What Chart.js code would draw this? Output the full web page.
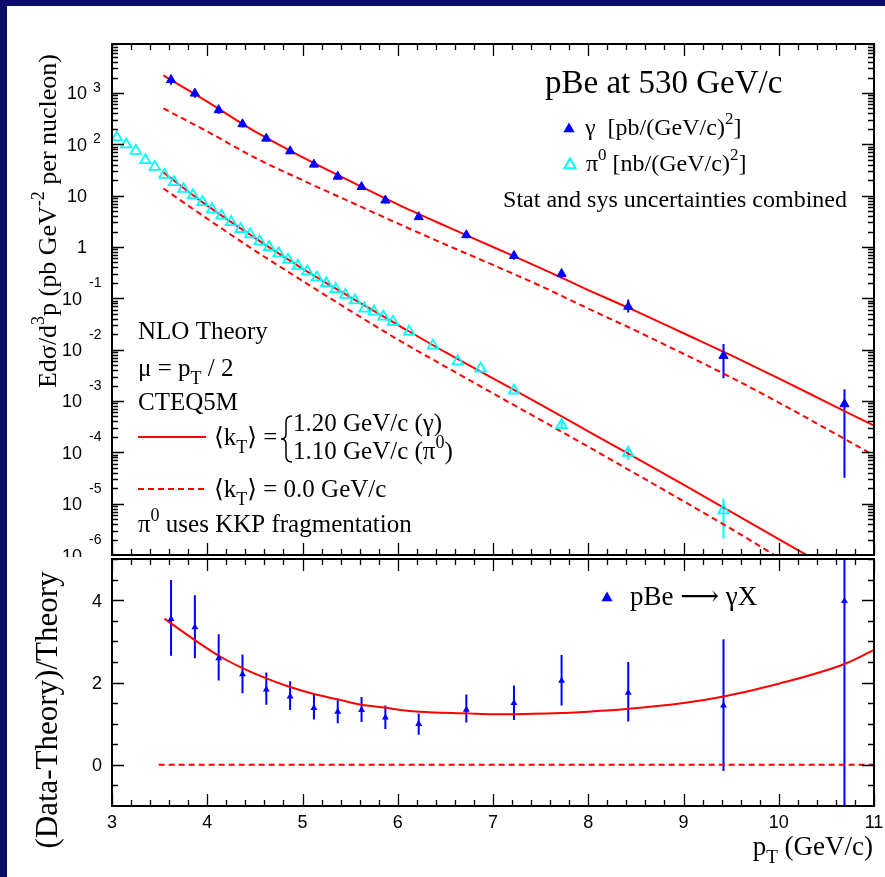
<!DOCTYPE html>
<html>
<head>
<meta charset="utf-8">
<title>pBe at 530 GeV/c</title>
<script src="https://cdn.jsdelivr.net/npm/chart.js@4.4.1/dist/chart.umd.min.js"></script>
<style>
  html, body { margin: 0; padding: 0; }
  body { width: 885px; height: 877px; background: #0b0b6b; position: relative; overflow: hidden; }
  #paper { position: absolute; left: 7px; top: 6px; right: 0; bottom: 0; background: #fff; }
  canvas { position: absolute; left: 0; top: 0; }
</style>
</head>
<body>
<div id="paper"></div>
<canvas id="c1" width="885" height="877"></canvas>
<canvas id="c2" width="885" height="877"></canvas>
<script>
"use strict";

// ---------- data (pT in GeV/c) ----------
// direct photons, pb/(GeV/c)^2
const gammaPt   = [3.62, 3.87, 4.12, 4.37, 4.62, 4.87, 5.12, 5.37, 5.62, 5.87, 6.22, 6.72, 7.22, 7.72, 8.42, 9.42, 10.69];
const gammaXsec = [1800, 980, 466, 248, 130, 73.6, 40.5, 23.6, 14.8, 8.1, 3.84, 1.71, 0.676, 0.30, 0.069, 0.0076, 0.00087];
const gammaLo   = [1440, 810, 396, 212, 113, 64.5, 35.7, 20.7, 13.0, 7.05, 3.34, 1.48, 0.565, 0.241, 0.053, 0.00277, 0.000032];
const gammaHi   = [2180, 1156, 541, 285, 149, 83.9, 46.3, 26.9, 16.8, 9.2, 4.34, 1.98, 0.79, 0.362, 0.095, 0.0129, 0.0017];

// pi0, nb/(GeV/c)^2
const pi0Pt   = [3.05, 3.15, 3.25, 3.35, 3.45, 3.55, 3.65, 3.75, 3.85, 3.95,
                 4.05, 4.15, 4.25, 4.35, 4.45, 4.55, 4.65, 4.75, 4.85, 4.95,
                 5.05, 5.15, 5.25, 5.35, 5.45, 5.55, 5.65, 5.75, 5.85, 5.95,
                 6.12, 6.37, 6.63, 6.87, 7.22, 7.72, 8.42, 9.42];
const pi0Xsec = [136, 99.5, 74.7, 49, 36.3, 25.4, 18.3, 13.5, 10.2, 7.5,
                 5.42, 4.08, 3.06, 2.24, 1.76, 1.29, 1.0, 0.75, 0.565, 0.43,
                 0.334, 0.255, 0.197, 0.151, 0.117, 0.091, 0.063, 0.055, 0.044, 0.035,
                 0.0225, 0.012, 0.0059, 0.0043, 0.0016, 0.00034, 0.000098, 0.0000074];
const pi0ErrPt = [7.72, 8.42, 9.42];
const pi0ErrLo = [0.00029, 0.000072, 0.0000021];
const pi0ErrHi = [0.00040, 0.000123, 0.0000126];

// NLO theory curves
const theoryPt  = [3.54, 4.0, 4.5, 5.0, 5.5, 6.0, 6.5, 7.0, 7.5, 8.0, 8.5, 9.0, 9.5, 10.0, 10.5, 11.0];
const gammaKt   = [2200, 676, 178, 56.2, 19.1, 6.76, 2.57, 1.0, 0.389, 0.145, 0.0562, 0.0209, 0.00776, 0.00275, 0.000955, 0.000331];
const gammaNoKt = [501, 178, 55.0, 20.0, 7.59, 2.88, 1.12, 0.447, 0.174, 0.0631, 0.0234, 0.00832, 0.00288, 0.000933, 0.000288, 0.0000871];
const pi0Kt     = [28.2, 6.38, 1.51, 0.380, 0.106, 0.0305, 0.00891, 0.00275, 0.000851, 0.000257, 0.0000776, 0.0000234, 0.00000692, 0.00000204, 0.000000603, 0.000000174];
const pi0NoKt   = [13.8, 3.55, 0.851, 0.219, 0.0575, 0.0158, 0.00468, 0.00141, 0.000427, 0.000129, 0.000038, 0.0000112, 0.00000324, 0.000000891, 0.000000251, 0.0000000708];

// (Data-Theory)/Theory for photons
const ratioVal = [3.54, 3.34, 2.59, 2.20, 1.83, 1.66, 1.38, 1.29, 1.33, 1.15, 0.99, 1.34, 1.50, 2.04, 1.75, 1.44, 3.98];
const ratioLo  = [2.65, 2.59, 2.05, 1.74, 1.46, 1.33, 1.10, 1.01, 1.04, 0.87, 0.73, 1.03, 1.09, 1.44, 1.05, -0.15, -2.5];
const ratioHi  = [4.49, 4.12, 3.17, 2.68, 2.24, 2.03, 1.72, 1.61, 1.65, 1.44, 1.25, 1.71, 1.93, 2.67, 2.50, 3.05, 6.5];
const ratioCurvePt = [3.55, 3.87, 4.12, 4.37, 4.62, 4.87, 5.12, 5.37, 5.62, 5.87, 6.03, 6.23, 6.74, 7.0, 7.24, 7.74, 8.0, 8.43, 9.0, 9.42, 10.0, 10.69, 11.0];
const ratioCurve   = [3.55, 3.03, 2.65, 2.35, 2.10, 1.89, 1.72, 1.59, 1.46, 1.39, 1.33, 1.29, 1.25, 1.23, 1.23, 1.26, 1.29, 1.36, 1.50, 1.66, 1.97, 2.45, 2.79];
const zeroPt  = [3.49, 11.0];
const zeroVal = [0, 0];

// axis labels
const xTickLabels = [3, 4, 5, 6, 7, 8, 9, 10, 11];
const logExps     = [3, 2, 1, 0, -1, -2, -3, -4, -5, -6];
const ratioLabels = [0, 2, 4];

const SERIF = '"Liberation Serif", "DejaVu Serif", serif';
const SANS  = '"Liberation Sans", Arial, sans-serif';
const BLUE = '#0000ff', CYAN = '#00ffff', RED = '#ff0000';

const pts = (xs, ys) => xs.map((x, i) => ({ x: x, y: ys[i] }));

// text with sub/superscripts: parts = [[kind, text], ...]
function rich(ctx, x, y, parts, size, family, align) {
  const fontFor = k => (k === 'n' ? size : Math.round(size * 0.7)) + 'px ' + family;
  let w = 0;
  for (const [k, t] of parts) { ctx.font = fontFor(k); w += ctx.measureText(t).width; }
  let cx = align === 'right' ? x - w : (align === 'center' ? x - w / 2 : x);
  ctx.textAlign = 'left';
  ctx.textBaseline = 'alphabetic';
  for (const [k, t] of parts) {
    ctx.font = fontFor(k);
    const dy = k === 'sub' ? size * 0.3 : (k === 'sup' ? -size * 0.45 : 0);
    ctx.fillText(t, cx, y + dy);
    cx += ctx.measureText(t).width;
  }
}

// ROOT-like frame with inward ticks
function makeFrame(yTicks) {
  return {
    id: 'frame',
    afterDatasetsDraw(chart) {
      const { ctx, chartArea: a } = chart;
      const xs = chart.scales.x, ys = chart.scales.y;
      ctx.save();
      ctx.strokeStyle = '#000';
      ctx.lineWidth = 1.3;
      ctx.beginPath();
      for (let i = 0; i <= 40; i++) {
        const len = i % 5 === 0 ? 12 : 6;
        const px = Math.round(xs.getPixelForValue(3 + i * 0.2)) + 0.5;
        ctx.moveTo(px, a.bottom); ctx.lineTo(px, a.bottom - len);
        ctx.moveTo(px, a.top); ctx.lineTo(px, a.top + len);
      }
      for (const t of yTicks) {
        const py = Math.round(ys.getPixelForValue(t.v)) + 0.5;
        if (py < a.top || py > a.bottom) continue;
        ctx.moveTo(a.left, py); ctx.lineTo(a.left + t.len, py);
        ctx.moveTo(a.right, py); ctx.lineTo(a.right - t.len, py);
      }
      ctx.stroke();
      ctx.lineWidth = 2;
      ctx.strokeRect(a.left, a.top, a.width, a.height);
      ctx.restore();
    }
  };
}

function makeErrBars(sets) {
  return {
    id: 'errbars',
    beforeDatasetsDraw(chart) {
      const { ctx, chartArea: a } = chart;
      const xs = chart.scales.x, ys = chart.scales.y;
      ctx.save();
      ctx.beginPath();
      ctx.rect(a.left, a.top, a.width, a.height);
      ctx.clip();
      for (const s of sets) {
        ctx.strokeStyle = s.color;
        ctx.lineWidth = 2;
        ctx.beginPath();
        s.xs.forEach((x, i) => {
          const px = xs.getPixelForValue(x);
          ctx.moveTo(px, ys.getPixelForValue(s.lo[i]));
          ctx.lineTo(px, ys.getPixelForValue(s.hi[i]));
        });
        ctx.stroke();
      }
      ctx.restore();
    }
  };
}

// tick positions
const logTicks = [];
for (let e = -6; e <= 3; e++) {
  for (let m = 1; m <= 9; m++) logTicks.push({ v: m * Math.pow(10, e), len: m === 1 ? 12 : 6 });
}
const linTicks = [];
for (let v = -1; v <= 5; v += 0.5) linTicks.push({ v: v, len: v % 2 === 0 ? 12 : 6 });

function lineSet(xs, ys, dashed) {
  return {
    data: pts(xs, ys), showLine: true, borderColor: RED, borderWidth: 2,
    borderDash: dashed ? [6, 4] : [], pointRadius: 0, cubicInterpolationMode: 'monotone', clip: 0
  };
}

function baseOpts(top, bottom, yScale) {
  return {
    responsive: false,
    animation: false,
    events: [],
    layout: { padding: { left: 112, right: 11, top: top, bottom: bottom } },
    scales: { x: { type: 'linear', min: 3, max: 11, display: false }, y: yScale },
    plugins: { legend: { display: false }, tooltip: { enabled: false } }
  };
}

// ---------- top panel: cross sections ----------
const topText = {
  id: 'topText',
  afterDraw(chart) {
    const ctx = chart.ctx;
    const ys = chart.scales.y;
    ctx.save();
    ctx.fillStyle = '#000';
    // y tick labels 10^n
    for (const e of logExps) {
      const py = ys.getPixelForValue(Math.pow(10, e));
      if (e === 0) rich(ctx, 87, py + 6.5, [['n', '1']], 18, SANS, 'right');
      else if (e === 1) rich(ctx, 87, py + 6.5, [['n', '10']], 18, SANS, 'right');
      else if (e > 0) {
        rich(ctx, 87, py + 6.5, [['n', '10']], 18, SANS, 'right');
        rich(ctx, 93, py - 1, [['n', String(e)]], 14, SANS, 'left');
      } else {
        rich(ctx, 82, py + 6.5, [['n', '10']], 18, SANS, 'right');
        rich(ctx, 89, py - 11, [['n', String(e)]], 14, SANS, 'left');
      }
    }
    // y title
    ctx.save();
    ctx.translate(56, 221);
    ctx.rotate(-Math.PI / 2);
    rich(ctx, 0, 0, [['n', 'Edσ/d'], ['sup', '3'], ['n', 'p (pb GeV'], ['sup', '-2'], ['n', ' per nucleon)']], 26, SERIF, 'center');
    ctx.restore();

    // legend
    rich(ctx, 545, 93, [['n', 'pBe at 530 GeV/c']], 33, SERIF, 'left');
    ctx.fillStyle = BLUE; ctx.strokeStyle = BLUE;
    Chart.helpers.drawPoint(ctx, { pointStyle: 'triangle', radius: 6.5, borderWidth: 0, rotation: 0 }, 569, 129);
    ctx.fillStyle = 'rgba(0,0,0,0)'; ctx.strokeStyle = CYAN; ctx.lineWidth = 2;
    Chart.helpers.drawPoint(ctx, { pointStyle: 'triangle', radius: 6.5, borderWidth: 2, rotation: 0 }, 570, 165);
    ctx.fillStyle = '#000';
    rich(ctx, 585, 135, [['n', 'γ  [pb/(GeV/c)'], ['sup', '2'], ['n', ']']], 24, SERIF, 'left');
    rich(ctx, 586, 171, [['n', 'π'], ['sup', '0'], ['n', ' [nb/(GeV/c)'], ['sup', '2'], ['n', ']']], 24, SERIF, 'left');
    rich(ctx, 847, 207, [['n', 'Stat and sys uncertainties combined']], 24, SERIF, 'right');

    // theory box
    const fs = 25;
    rich(ctx, 138, 339, [['n', 'NLO Theory']], fs, SERIF, 'left');
    rich(ctx, 138, 376, [['n', 'μ = p'], ['sub', 'T'], ['n', ' / 2']], fs, SERIF, 'left');
    rich(ctx, 138, 410, [['n', 'CTEQ5M']], fs, SERIF, 'left');
    ctx.strokeStyle = RED; ctx.lineWidth = 2;
    ctx.beginPath(); ctx.moveTo(138, 437); ctx.lineTo(206, 437); ctx.stroke();
    ctx.setLineDash([6, 4]);
    ctx.beginPath(); ctx.moveTo(138, 489); ctx.lineTo(206, 489); ctx.stroke();
    ctx.setLineDash([]);
    rich(ctx, 214, 445, [['n', '⟨k'], ['sub', 'T'], ['n', '⟩ =']], fs, SERIF, 'left');
    // brace
    ctx.strokeStyle = '#000'; ctx.lineWidth = 1.5;
    ctx.beginPath();
    ctx.moveTo(292, 416);
    ctx.quadraticCurveTo(286, 416, 286, 422);
    ctx.lineTo(286, 434);
    ctx.quadraticCurveTo(286, 439, 281, 439);
    ctx.quadraticCurveTo(286, 439, 286, 444);
    ctx.lineTo(286, 456);
    ctx.quadraticCurveTo(286, 462, 292, 462);
    ctx.stroke();
    rich(ctx, 293, 431, [['n', '1.20 GeV/c (γ)']], fs, SERIF, 'left');
    rich(ctx, 293, 459, [['n', '1.10 GeV/c (π'], ['sup', '0'], ['n', ')']], fs, SERIF, 'left');
    rich(ctx, 214, 497, [['n', '⟨k'], ['sub', 'T'], ['n', '⟩ = 0.0 GeV/c']], fs, SERIF, 'left');
    rich(ctx, 138, 532, [['n', 'π'], ['sup', '0'], ['n', ' uses KKP fragmentation']], fs, SERIF, 'left');
    ctx.restore();
  }
};

const chart1 = new Chart(document.querySelector('#c1'), {
  type: 'scatter',
  data: {
    datasets: [
      { data: pts(gammaPt, gammaXsec), pointStyle: 'triangle', pointRadius: 5.3, backgroundColor: BLUE, borderColor: BLUE, borderWidth: 1 },
      { data: pts(pi0Pt, pi0Xsec), pointStyle: 'triangle', pointRadius: 6, backgroundColor: 'rgba(0,0,0,0)', borderColor: CYAN, borderWidth: 1.8 },
      lineSet(theoryPt, gammaKt, false),
      lineSet(theoryPt, gammaNoKt, true),
      lineSet(theoryPt, pi0Kt, false),
      lineSet(theoryPt, pi0NoKt, true)
    ]
  },
  options: baseOpts(44, 877 - 555, { type: 'logarithmic', min: 1e-6, max: 9000, display: false }),
  plugins: [
    makeErrBars([
      { xs: gammaPt, lo: gammaLo, hi: gammaHi, color: BLUE },
      { xs: pi0ErrPt, lo: pi0ErrLo, hi: pi0ErrHi, color: CYAN }
    ]),
    makeFrame(logTicks),
    topText
  ]
});

// ---------- bottom panel: ratio ----------
const bottomText = {
  id: 'bottomText',
  beforeDraw(chart) {
    const ctx = chart.ctx;
    ctx.save();
    ctx.fillStyle = '#fff';
    ctx.fillRect(7, 557, 878, 320);
    ctx.restore();
  },
  afterDraw(chart) {
    const ctx = chart.ctx;
    const ys = chart.scales.y, xs = chart.scales.x;
    ctx.save();
    ctx.fillStyle = '#000';
    for (const v of ratioLabels) {
      rich(ctx, 102, ys.getPixelForValue(v) + 6.5, [['n', String(v)]], 18, SANS, 'right');
    }
    for (const v of xTickLabels) {
      rich(ctx, xs.getPixelForValue(v), 828, [['n', String(v)]], 18, SANS, 'center');
    }
    rich(ctx, 873, 855, [['n', 'p'], ['sub', 'T'], ['n', ' (GeV/c)']], 27, SERIF, 'right');
    ctx.save();
    ctx.translate(57, 710);
    ctx.rotate(-Math.PI / 2);
    rich(ctx, 0, 0, [['n', '(Data-Theory)/Theory']], 31, SERIF, 'center');
    ctx.restore();
    ctx.fillStyle = BLUE;
    Chart.helpers.drawPoint(ctx, { pointStyle: 'triangle', radius: 6.5, borderWidth: 0, rotation: 0 }, 607, 598);
    ctx.fillStyle = '#000';
    rich(ctx, 630, 605, [['n', 'pBe ⟶ γX']], 27, SERIF, 'left');
    ctx.restore();
  }
};

const chart2 = new Chart(document.querySelector('#c2'), {
  type: 'scatter',
  data: {
    datasets: [
      { data: pts(gammaPt, ratioVal), pointStyle: 'triangle', pointRadius: 4, backgroundColor: BLUE, borderColor: BLUE, borderWidth: 0 },
      lineSet(ratioCurvePt, ratioCurve, false),
      lineSet(zeroPt, zeroVal, true)
    ]
  },
  options: baseOpts(559, 877 - 806, { type: 'linear', min: -1, max: 5, display: false }),
  plugins: [
    makeErrBars([{ xs: gammaPt, lo: ratioLo, hi: ratioHi, color: BLUE }]),
    makeFrame(linTicks),
    bottomText
  ]
});
</script>
</body>
</html>
